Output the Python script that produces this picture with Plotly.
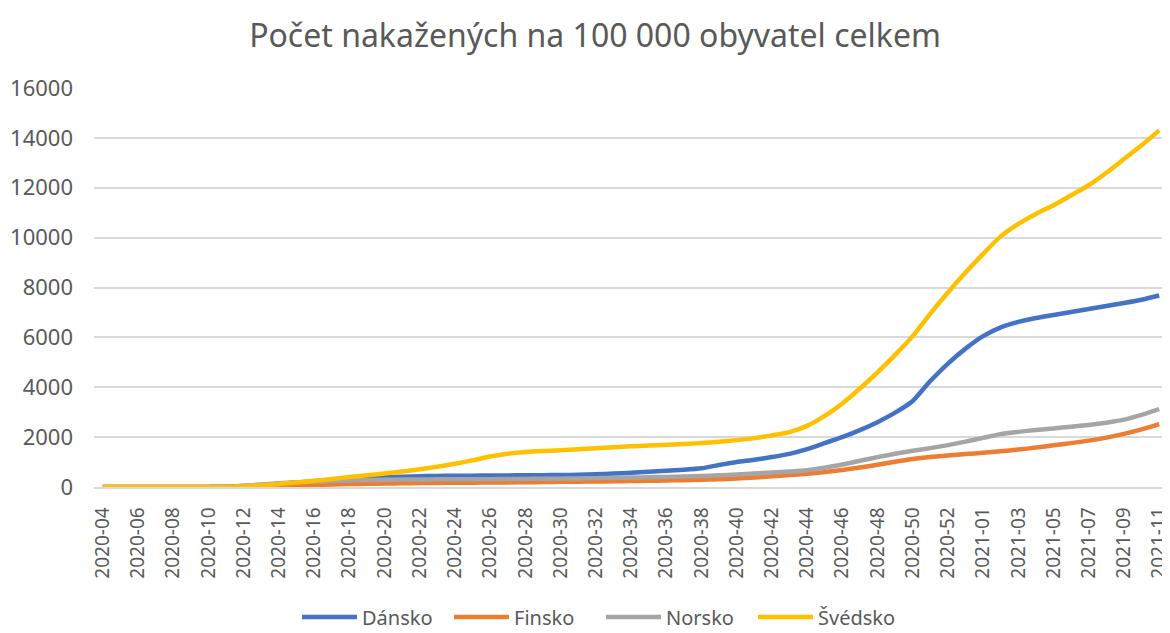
import plotly.graph_objects as go

weeks = [f"2020-{w:02d}" for w in range(4, 54)] + [f"2021-{w:02d}" for w in range(1, 12)]

dansko = [0, 0, 0, 0, 0, 2, 5, 10, 40, 80, 130, 180, 230, 280, 320, 360, 390, 415, 430, 445,
          450, 455, 460, 465, 470, 475, 480, 490, 510, 540, 570, 610, 650, 690, 750, 880,
          1000, 1090, 1200, 1330, 1520, 1760, 2000, 2280, 2600, 2980, 3450, 4250, 4950, 5550,
          6050, 6400, 6620, 6780, 6900, 7020, 7140, 7260, 7380, 7510, 7680]
finsko = [0, 0, 0, 0, 0, 0, 1, 3, 10, 20, 40, 60, 80, 100, 120, 130, 140, 150, 160, 165,
          170, 175, 180, 185, 190, 200, 210, 215, 220, 230, 240, 250, 260, 275, 290, 310,
          340, 380, 430, 480, 530, 600, 680, 780, 890, 1010, 1120, 1200, 1260, 1320,
          1370, 1430, 1500, 1580, 1670, 1760, 1860, 1980, 2130, 2310, 2520]
norsko = [0, 0, 0, 0, 0, 1, 4, 10, 50, 100, 150, 190, 220, 245, 265, 280, 290, 298, 303, 307,
          310, 312, 315, 320, 325, 330, 335, 345, 355, 365, 380, 390, 405, 420, 440, 470,
          500, 540, 580, 620, 670, 770, 900, 1050, 1200, 1330, 1450, 1560, 1680, 1820,
          1970, 2120, 2210, 2290, 2350, 2420, 2490, 2580, 2700, 2890, 3120]
svedsko = [0, 0, 0, 0, 1, 2, 3, 5, 30, 70, 120, 180, 250, 320, 400, 470, 540, 620, 710, 810,
           930, 1070, 1220, 1330, 1400, 1440, 1470, 1510, 1550, 1590, 1630, 1660, 1690, 1720, 1760, 1810,
           1880, 1960, 2070, 2200, 2450, 2850, 3350, 3950, 4600, 5300, 6050, 6950, 7800, 8600,
           9350, 10050, 10550, 10950, 11300, 11700, 12100, 12600, 13150, 13700, 14300]

series = [("Dánsko", dansko, "#4472C4"), ("Finsko", finsko, "#ED7D31"),
          ("Norsko", norsko, "#A5A5A5"), ("Švédsko", svedsko, "#FFC000")]

fig = go.Figure()
for name, vals, col in series:
    fig.add_trace(go.Scatter(x=weeks, y=vals, name=name, mode="lines",
                             line=dict(color=col, width=4.5, shape="spline", smoothing=0.6)))

# page body has an 8px margin, so the figure is drawn 8px smaller and offset
W, H = 1162, 625
ml, mr, mt = 86, 2, 80
mb = H - 479
plot_w = W - ml - mr
plot_h = H - mt - mb

txt = "#595959"
fig.update_layout(
    width=W, height=H,
    paper_bgcolor="white", plot_bgcolor="white",
    margin=dict(l=ml, r=mr, t=mt, b=mb, autoexpand=False),
    font=dict(family="Noto Sans", color=txt, size=20),
    title=dict(text="Počet nakažených na 100 000 obyvatel celkem", x=587 / W, xanchor="center",
               y=1 - 28 / H, yanchor="middle", font=dict(size=32, color=txt)),
    showlegend=True,
    legend=dict(orientation="h", x=(593 - ml) / plot_w, xanchor="center",
                y=(479 - 609) / plot_h, yanchor="middle", entrywidth=82, entrywidthmode="pixels",
                font=dict(size=20, color=txt), itemwidth=55, traceorder="normal"),
    xaxis=dict(type="category", range=[-0.5, len(weeks) - 0.5], tickmode="array",
               tickvals=weeks[::2], ticktext=weeks[::2], tickangle=-90, showgrid=False,
               showline=True, linecolor="#D9D9D9", linewidth=1.5, ticks="",
               tickfont=dict(size=19, color=txt), ticklabelstandoff=11, automargin=False),
    yaxis=dict(range=[0, 16000], dtick=2000, showgrid=True, gridcolor="#D9D9D9", gridwidth=1.5,
               zeroline=False, showline=False, ticks="", tickfont=dict(size=22, color=txt),
               ticklabelstandoff=20, tickformat="d", automargin=False),
)

fig.write_html("out.html")
